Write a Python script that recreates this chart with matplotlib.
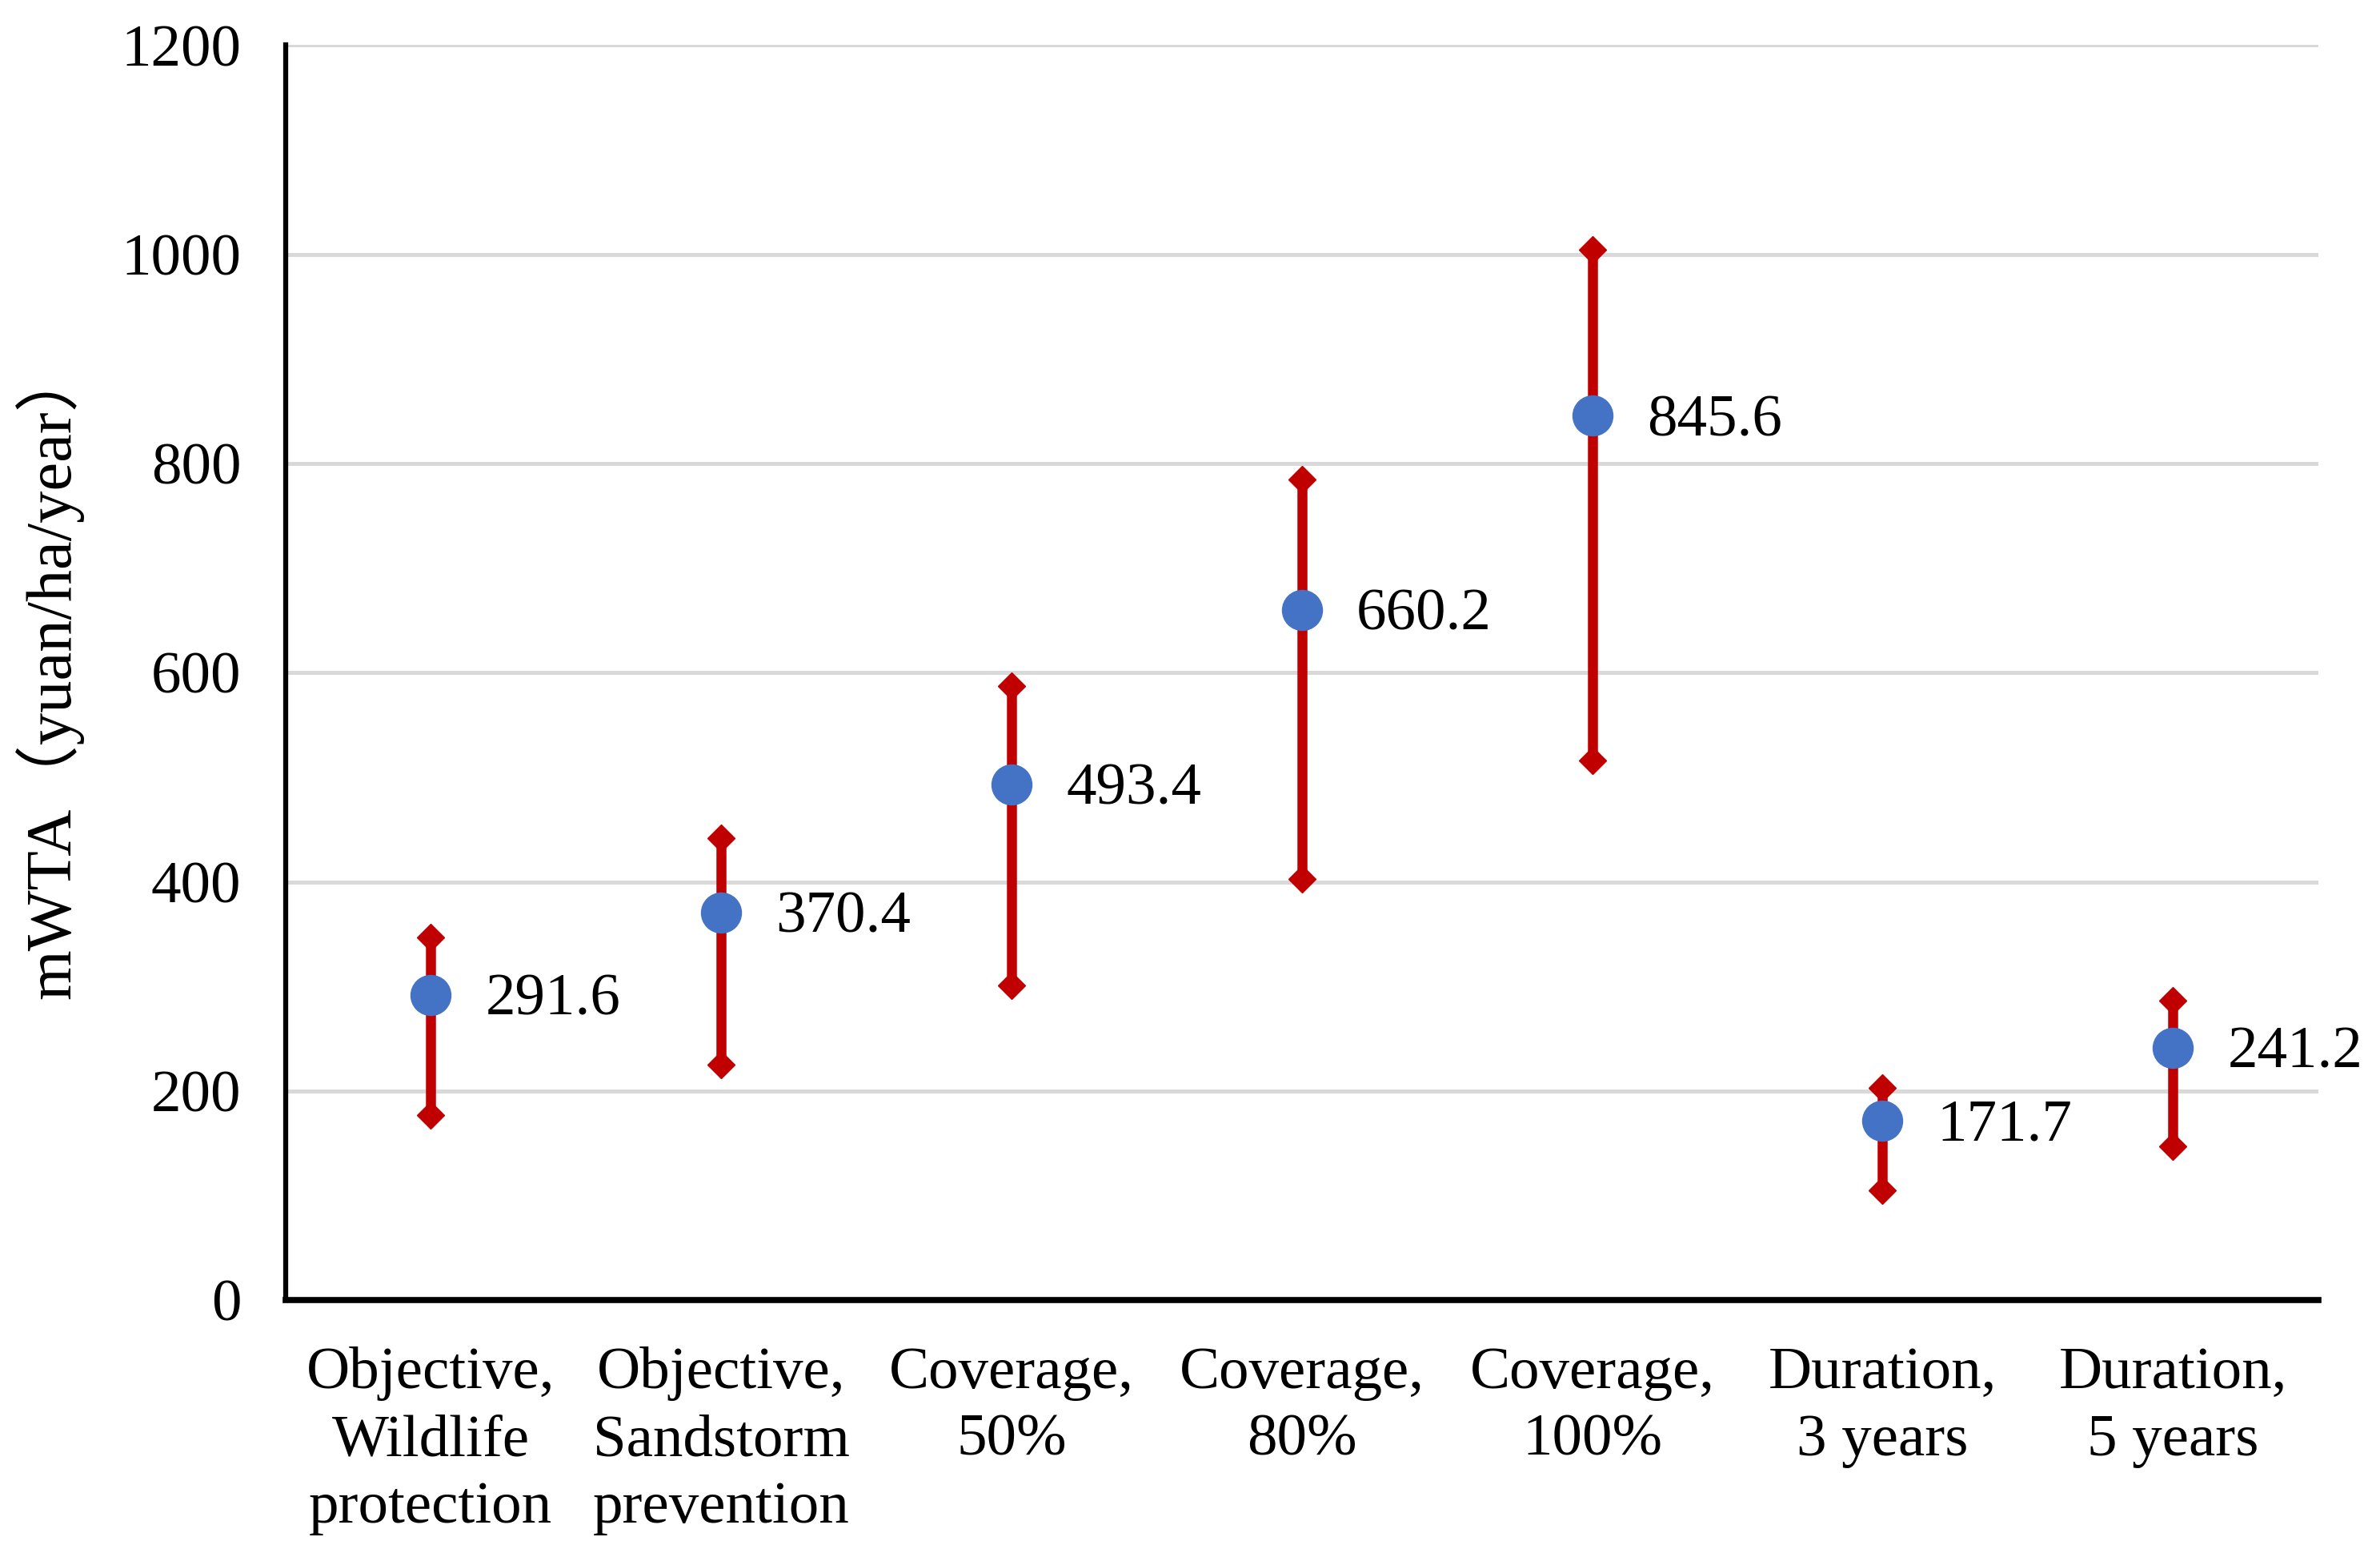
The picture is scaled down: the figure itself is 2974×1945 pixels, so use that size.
import matplotlib
matplotlib.use("Agg")
import matplotlib.pyplot as plt
import numpy as np

categories = ["Objective,\nWildlife\nprotection", "Objective,\nSandstorm\nprevention",
              "Coverage,\n50%", "Coverage,\n80%", "Coverage,\n100%",
              "Duration,\n3 years", "Duration,\n5 years"]
mean_values = [291.6, 370.4, 493.4, 660.2, 845.6, 171.7, 241.2]
upper_values = [347, 442, 587, 785, 1004, 203, 286]
lower_values = [177, 225, 301, 403, 516, 105, 147]
y_ticks = [0, 200, 400, 600, 800, 1000, 1200]

FONT = ["Liberation Serif", "Noto Sans CJK SC"]
plt.rcParams["font.family"] = FONT
FS = 54

fig = plt.figure(figsize=(29.74, 19.45), dpi=100)
ax = fig.add_axes([0.120, 0.165, 0.854, 0.806])

x = np.arange(len(categories))
blue = "#4472C4"
red = "#C00000"

ax.set_axisbelow(True)
ax.yaxis.grid(True, color="#D9D9D9", linewidth=3.6)
ax.xaxis.grid(False)

for xi, lo, hi in zip(x, lower_values, upper_values):
    ax.plot([xi, xi], [lo, hi], color=red, linewidth=9, solid_capstyle="butt", zorder=3)
ax.plot(x, upper_values, linestyle="none", marker="D", markersize=17, color=red, zorder=3)
ax.plot(x, lower_values, linestyle="none", marker="D", markersize=17, color=red, zorder=3)
ax.plot(x, mean_values, linestyle="none", marker="o", markersize=36, color=blue, zorder=4)

for xi, v in zip(x, mean_values):
    ax.annotate(f"{v:.1f}", (xi, v), xytext=(49, -5), textcoords="offset points",
                ha="left", va="center", fontsize=FS, color="black")

ax.set_xlim(-0.5, len(categories) - 0.5)
ax.set_ylim(0, 1200)
ax.set_yticks(y_ticks)
ax.set_yticklabels([str(t) for t in y_ticks], fontsize=FS)
ax.set_xticks(x)
ax.set_xticklabels(categories, fontsize=FS, linespacing=1.32)
ax.tick_params(axis="y", length=0, pad=40)
ax.tick_params(axis="x", length=0, pad=42)

for s in ["top", "right"]:
    ax.spines[s].set_visible(False)
ax.spines["left"].set_linewidth(4.5)
ax.spines["bottom"].set_linewidth(5.5)
ax.spines["left"].set_color("black")
ax.spines["bottom"].set_color("black")

ax.set_ylabel("mWTA（yuan/ha/year）", fontsize=58, labelpad=34)

fig.savefig("out.png", dpi=100)
